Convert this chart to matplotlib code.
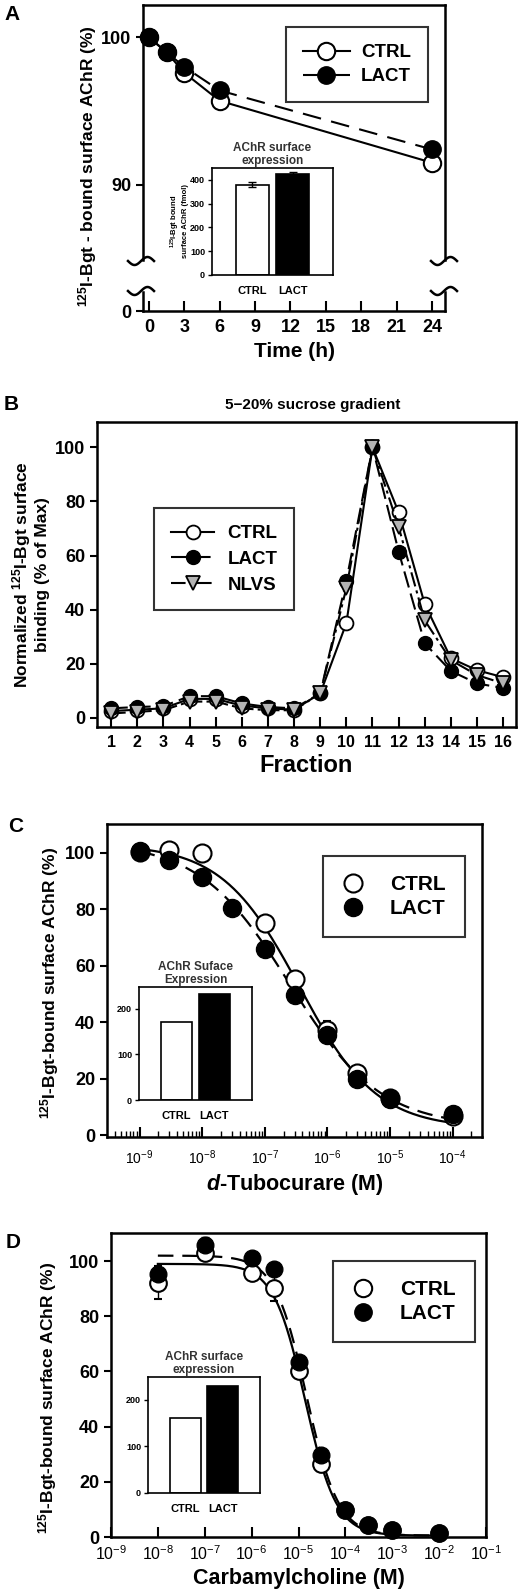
import matplotlib
matplotlib.use("Agg")
import matplotlib.pyplot as plt
from matplotlib.lines import Line2D
import numpy as np

plt.rcParams['font.family'] = ['Liberation Sans', 'DejaVu Sans']
plt.rcParams['font.weight'] = 'bold'
plt.rcParams['axes.labelweight'] = 'bold'
plt.rcParams['axes.titleweight'] = 'bold'
plt.rcParams['mathtext.fontset'] = 'custom'
plt.rcParams['mathtext.rm'] = 'Liberation Sans'
plt.rcParams['mathtext.it'] = 'Liberation Sans:italic:bold'
plt.rcParams['mathtext.bf'] = 'Liberation Sans:bold'

# ---- data ----
# A: surface AChR over time
A_time = [0, 1.5, 3, 6, 24]
A_ctrl = [100, 99.0, 97.6, 95.7, 91.5]
A_lact = [100, 99.0, 98.0, 96.4, 92.4]
A_xticks = [0, 3, 6, 9, 12, 15, 18, 21, 24]

inset_labels = ['CTRL', 'LACT']
A_inset_vals = [380, 425]
A_inset_err = [10, 8]

# B: sucrose gradient fractions
B_fraction = list(range(1, 17))
B_ctrl = [2.5, 3.0, 3.5, 7.0, 7.0, 4.5, 3.5, 3.0, 9.0, 35.0, 100, 76.0, 42.0, 22.0, 17.6, 15.0]
B_lact = [3.5, 4.0, 4.3, 8.0, 8.0, 5.3, 4.0, 3.5, 9.0, 50.7, 100, 61.5, 27.5, 17.3, 12.7, 11.0]
B_nlvs = [1.6, 2.2, 2.8, 6.0, 6.0, 3.5, 2.8, 2.8, 9.0, 48.0, 100, 70.6, 36.0, 21.3, 15.8, 12.7]

# C: d-tubocurare competition
C_ctrl_conc = [1e-9, 3e-9, 1e-8, 1e-7, 3e-7, 1e-6, 3e-6, 1e-5, 1e-4]
C_ctrl = [100.4, 101.0, 100.0, 75.0, 55.3, 37.4, 22.0, 13.2, 7.0]
C_ctrl_err = [1, 1, 1, 2, 3, 3, 1.5, 1, 1]
C_lact_conc = [1e-9, 3e-9, 1e-8, 3e-8, 1e-7, 3e-7, 1e-6, 3e-6, 1e-5, 1e-4]
C_lact = [100.7, 97.4, 91.3, 80.6, 65.9, 49.6, 35.4, 20.0, 13.0, 7.7]
C_lact_err = [1, 1, 1, 1, 1.5, 2, 2, 1.5, 1, 1]
# fitted sigmoid parameters: top, bottom, log IC50, hill slope
C_ctrl_fit = (103, 2.5, -6.45, 0.70)
C_lact_fit = (104, 3.0, -6.60, 0.60)
C_inset_vals = [171, 233]

# D: carbamylcholine competition
D_conc = [1e-8, 1e-7, 1e-6, 3e-6, 1e-5, 3e-5, 1e-4, 3e-4, 1e-3, 1e-2]
D_ctrl = [92.2, 102.8, 95.8, 90.4, 60.0, 26.4, 9.9, 4.5, 2.4, 1.4]
D_ctrl_err = [6, 2, 2, 5, 2, 2, 1, 1, 1, 1]
D_lact = [95.5, 105.8, 101.0, 97.3, 63.6, 29.8, 9.9, 4.5, 2.4, 1.4]
D_lact_err = [2, 3, 2, 2, 2, 2, 1, 1, 1, 1]
D_ctrl_fit = (99, 0.5, -4.86, 1.30)
D_lact_fit = (102, 0.5, -4.83, 1.28)
D_inset_vals = [160, 229]

W, H = 529, 1596
fig = plt.figure(figsize=(W / 100, H / 100), dpi=100)


def rect(x0, y0, x1, y1):
    return [x0 / W, 1 - y1 / H, (x1 - x0) / W, (y1 - y0) / H]


def fx(x):
    return x / W


def fy(y):
    return 1 - y / H


def sigmoid(x, p):
    top, bottom, logc, hill = p
    return bottom + (top - bottom) / (1 + 10 ** ((np.log10(x) - logc) * hill))


def style_axes(ax):
    for s in ax.spines.values():
        s.set_linewidth(1.8)
    ax.tick_params(axis='x', direction='in', length=7, width=1.5)
    ax.tick_params(axis='y', direction='out', length=5, width=1.5)


def squiggle(xc, yc):
    t = np.linspace(-1, 1, 40)
    xs = xc + 13 * t
    ys = yc - 4 * np.sin(np.pi * t)
    fig.add_artist(Line2D(fx(xs), fy(ys), transform=fig.transFigure,
                          color='black', lw=1.8))


def inset(rect_px, vals, yticks, ylim, title, err=None, ylabel=None):
    ax = fig.add_axes(rect(*rect_px))
    ax.bar([0, 1], vals, width=0.82, color=['white', 'black'],
           edgecolor='black', linewidth=1.2,
           yerr=err, capsize=3, error_kw=dict(lw=1, capthick=1))
    ax.set_xlim(-1.0, 2.0)
    ax.set_ylim(*ylim)
    ax.set_yticks(yticks)
    ax.set_xticks([0, 1])
    ax.set_xticklabels(inset_labels, fontsize=8)
    ax.tick_params(axis='x', length=0, pad=8)
    ax.tick_params(axis='y', labelsize=6.5, length=3, width=1, pad=2)
    for s in ax.spines.values():
        s.set_linewidth(1.2)
    ax.set_title(title, fontsize=8.5, pad=3, linespacing=1.1,
                 color='#333333')
    if ylabel:
        ax.set_ylabel(ylabel, fontsize=5.5, labelpad=1, linespacing=1.0)
    return ax


def marker_legend(ax, anchor, size):
    handles = [Line2D([], [], ls='none', marker='o', ms=size, mfc='white',
                      mec='black', mew=1.5),
               Line2D([], [], ls='none', marker='o', ms=size, mfc='black',
                      mec='black')]
    leg = ax.legend(handles, ['CTRL', 'LACT'], loc='upper left',
                    bbox_to_anchor=(fx(anchor[0]), fy(anchor[1])),
                    bbox_transform=fig.transFigure, fontsize=15,
                    frameon=True, fancybox=False, edgecolor='black',
                    handlelength=1.0, handletextpad=1.3, borderpad=0.9,
                    labelspacing=0.25)
    leg.get_frame().set_linewidth(1.5)
    return leg


# ================= Panel A =================
axA = fig.add_axes(rect(143, 5, 445, 260))
axA0 = fig.add_axes(rect(143, 292, 445, 311))
for ax in (axA, axA0):
    style_axes(ax)
    ax.set_xlim(-0.5, 25.1)
axA.spines['bottom'].set_visible(False)
axA0.spines['top'].set_visible(False)
axA.set_ylim(84.9, 102.2)
axA.set_yticks([90, 100])
axA.set_xticks([])
axA0.set_ylim(0, 1.28)
axA0.set_yticks([0])
axA0.set_xticks(A_xticks)
axA.tick_params(axis='y', labelsize=13)
axA0.tick_params(axis='y', labelsize=13)
axA0.tick_params(axis='x', labelsize=13, pad=6)

axA.plot(A_time, A_ctrl, '-', color='black', lw=1.5, marker='o', ms=12.5,
         mfc='white', mec='black', mew=1.5, label='CTRL', clip_on=False)
axA.plot(A_time, A_lact, color='black', lw=1.5, dashes=(9, 5), marker='o',
         ms=12.5, mfc='black', mec='black', label='LACT', clip_on=False)
legA = axA.legend(loc='upper right', bbox_to_anchor=(fx(437), fy(18)),
                  bbox_transform=fig.transFigure, fontsize=13.5,
                  frameon=True, fancybox=False, edgecolor='black',
                  handlelength=2.5, handletextpad=0.6, borderpad=0.9,
                  labelspacing=0.35)
legA.get_frame().set_linewidth(1.5)
axA0.set_xlabel('Time (h)', fontsize=15, labelpad=4)
fig.text(fx(88), fy(166), '$^{\\mathbf{125}}$I-Bgt - bound surface AChR (%)',
         rotation=90, ha='center', va='center', fontsize=12.5)
for xc in (141, 444):
    squiggle(xc, 261)
    squiggle(xc, 291)
fig.text(fx(4), fy(15), 'A', fontsize=15, va='center')

inset((212, 168, 333, 275), A_inset_vals, [0, 100, 200, 300, 400], (0, 450),
      'AChR surface\nexpression', err=A_inset_err,
      ylabel='$^{125}$I-Bgt bound\nsurface AChR (fmol)')

# ================= Panel B =================
axB = fig.add_axes(rect(97, 422, 516, 727))
style_axes(axB)
axB.plot(B_fraction, B_ctrl, '-', color='black', lw=1.5, marker='o', ms=10,
         mfc='white', mec='black', mew=1.3, label='CTRL')
axB.plot(B_fraction, B_lact, color='black', lw=1.5, dashes=(8, 3),
         marker='o', ms=10, mfc='black', mec='black', label='LACT')
axB.plot(B_fraction, B_nlvs, color='black', lw=1.5, dashes=(7, 2, 1.5, 2),
         marker='v', ms=10.5, mfc='#b4b4b4', mec='black', mew=1.3, label='NLVS')
axB.set_xlim(0.46, 16.49)
axB.set_ylim(-3.4, 109.4)
axB.set_xticks(B_fraction)
axB.set_yticks([0, 20, 40, 60, 80, 100])
axB.tick_params(axis='x', labelsize=11.5, pad=6)
axB.tick_params(axis='y', labelsize=13)
axB.set_xlabel('Fraction', fontsize=17, labelpad=3)
fig.text(fx(30), fy(575),
         'Normalized $^{\\mathbf{125}}$I-Bgt surface\nbinding (% of Max)',
         rotation=90, ha='center', va='center', fontsize=12.5,
         linespacing=1.1)
legB = axB.legend(loc='upper left', bbox_to_anchor=(fx(145), fy(499)),
                  bbox_transform=fig.transFigure, fontsize=13.5,
                  frameon=True, fancybox=False, edgecolor='black',
                  handlelength=2.3, handletextpad=0.7, borderpad=0.9,
                  labelspacing=0.45)
legB.get_frame().set_linewidth(1.5)
fig.text(fx(313), fy(405), '5\u221220% sucrose gradient', ha='center',
         va='center', fontsize=11)
fig.text(fx(4), fy(405), 'B', fontsize=15, va='center')

# ================= Panel C =================
axC = fig.add_axes(rect(107, 824, 482, 1137))
style_axes(axC)
axC.set_xscale('log')
axC.set_xlim(10 ** -9.52, 10 ** -3.53)
axC.set_ylim(-0.6, 110.2)
xc = np.logspace(-9, -4, 200)
axC.plot(xc, sigmoid(xc, C_ctrl_fit), '-', color='black', lw=1.6)
axC.plot(xc, sigmoid(xc, C_lact_fit), color='black', lw=1.6, dashes=(7, 4))
axC.errorbar(C_ctrl_conc, C_ctrl, yerr=C_ctrl_err, fmt='o', ms=13,
             mfc='white', mec='black', mew=1.5, ecolor='black', elinewidth=1,
             capsize=3)
axC.errorbar(C_lact_conc, C_lact, yerr=C_lact_err, fmt='o', ms=13,
             mfc='black', mec='black', ecolor='black', elinewidth=1,
             capsize=3)
axC.set_yticks([0, 20, 40, 60, 80, 100])
axC.set_xticks([1e-9, 1e-8, 1e-7, 1e-6, 1e-5, 1e-4])
axC.tick_params(axis='x', which='minor', direction='in', length=4, width=1)
axC.tick_params(axis='x', labelsize=10, pad=8)
axC.tick_params(axis='y', labelsize=13)
for lab in axC.get_xticklabels():
    lab.set_fontweight('normal')
axC.set_xlabel('$\\mathit{d}$-Tubocurare (M)', fontsize=15.5, labelpad=4)
fig.text(fx(50), fy(983), '$^{\\mathbf{125}}$I-Bgt-bound surface AChR (%)',
         rotation=90, ha='center', va='center', fontsize=12.5)
marker_legend(axC, (313, 846), 13)
fig.text(fx(8), fy(826), 'C', fontsize=15, va='center')

inset((139, 987, 252, 1100), C_inset_vals, [0, 100, 200], (0, 248),
      'AChR Suface\nExpression')

# ================= Panel D =================
axD = fig.add_axes(rect(111, 1233, 486, 1537))
style_axes(axD)
axD.set_xscale('log')
axD.set_xlim(1e-9, 1e-1)
axD.set_ylim(0, 110.2)
xd = np.logspace(-8, -2, 200)
axD.plot(xd, sigmoid(xd, D_ctrl_fit), '-', color='black', lw=1.6)
axD.plot(xd, sigmoid(xd, D_lact_fit), color='black', lw=1.6, dashes=(7, 4))
axD.errorbar(D_conc, D_ctrl, yerr=D_ctrl_err, fmt='o', ms=12,
             mfc='white', mec='black', mew=1.5, ecolor='black', elinewidth=1,
             capsize=3, clip_on=False)
axD.errorbar(D_conc, D_lact, yerr=D_lact_err, fmt='o', ms=12,
             mfc='black', mec='black', ecolor='black', elinewidth=1,
             capsize=3, clip_on=False)
axD.set_yticks([0, 20, 40, 60, 80, 100])
axD.set_xticks([10.0 ** k for k in range(-9, 0)])
axD.tick_params(axis='x', which='minor', direction='in', length=4, width=1)
axD.tick_params(axis='x', labelsize=11.5, pad=5)
axD.tick_params(axis='y', labelsize=13)
for lab in axD.get_xticklabels():
    lab.set_fontweight('normal')
axD.set_xlabel('Carbamylcholine (M)', fontsize=15.5, labelpad=4)
fig.text(fx(48), fy(1398), '$^{\\mathbf{125}}$I-Bgt-bound surface AChR (%)',
         rotation=90, ha='center', va='center', fontsize=12.5)
marker_legend(axD, (323, 1251), 12.5)
fig.text(fx(6), fy(1243), 'D', fontsize=15, va='center')

inset((148, 1377, 260, 1493), D_inset_vals, [0, 100, 200], (0, 249),
      'AChR surface\nexpression')

fig.savefig('out.png', dpi=100)
